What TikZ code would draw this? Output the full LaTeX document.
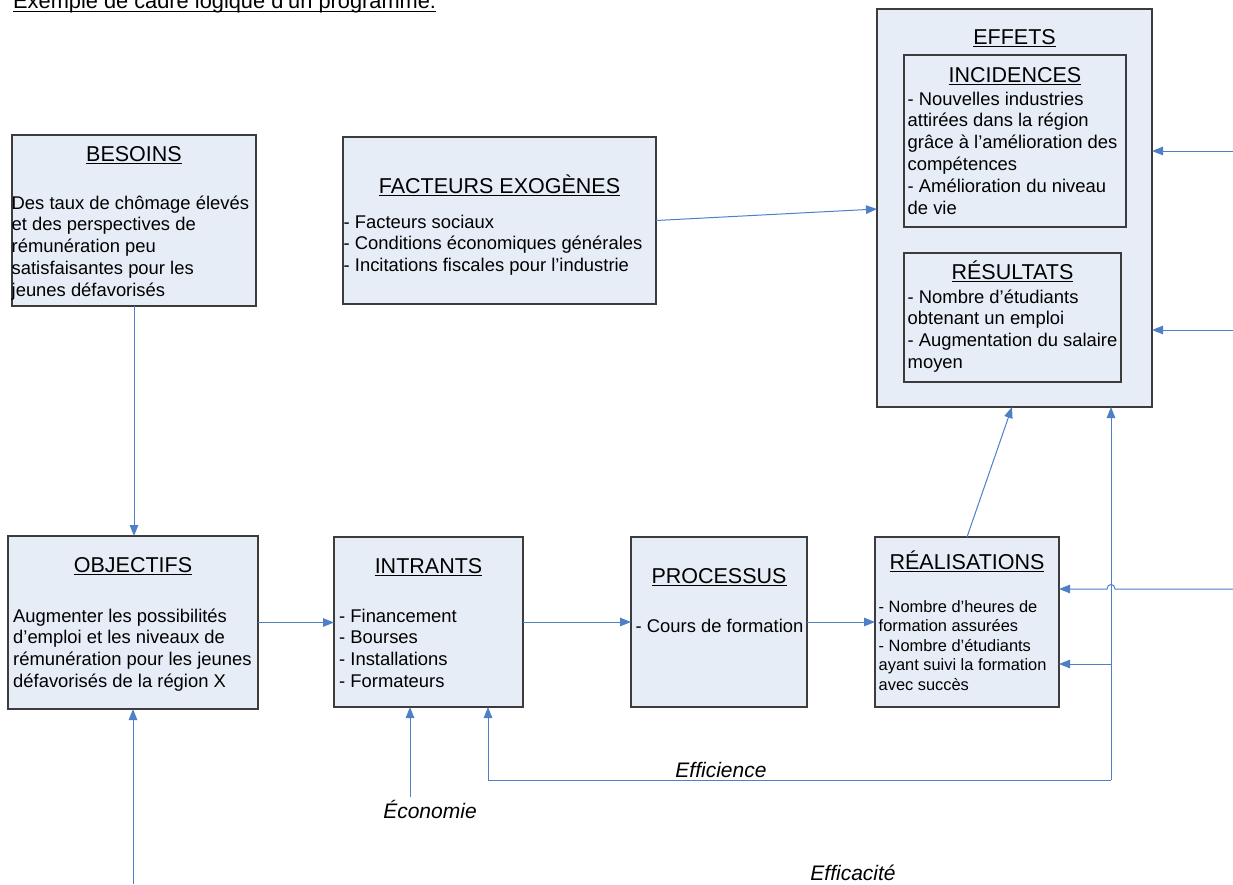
\documentclass[tikz,border=0pt]{standalone}
\usepackage{fontspec}
\setmainfont{Liberation Sans}
\usetikzlibrary{arrows.meta,calc,fit}

\definecolor{boxfill}{RGB}{231,237,247}
\definecolor{boxline}{RGB}{60,60,60}
\definecolor{flow}{RGB}{79,127,198}

% underlined heading with a rule at a fixed depth
\newsavebox\hdrbox
\newcommand\hdr[2][3]{\sbox\hdrbox{#2}\rlap{\rule[-#1pt]{\wd\hdrbox}{1.1pt}}\usebox\hdrbox}
% left-aligned block of lines; the node's base is the first baseline
\newcommand\lineblock[1]{\parbox[t]{330pt}{\raggedright #1}}

\tikzset{
  box/.style={draw=boxline, fill=boxfill, line width=1.2pt, inner sep=0pt, outer sep=0pt},
  heading/.style={anchor=base, inner sep=0pt, font=\fontsize{21.5}{26}\selectfont},
  body/.style={anchor=base west, inner sep=0pt, font=\fontsize{18.4}{21.8}\selectfont},
  smallbody/.style={anchor=base west, inner sep=0pt, font=\fontsize{16.4}{19.6}\selectfont},
  lbl/.style={anchor=base, inner sep=0pt, font=\fontsize{21}{25}\selectfont\itshape},
  flow/.style={draw=flow, line width=1pt, -{Triangle[length=11pt,width=8.5pt]}},
  flowline/.style={draw=flow, line width=1pt},
}

\begin{document}
\begin{tikzpicture}[x=1pt,y=-1pt]
\useasboundingbox (0,0) rectangle (1233,884);
\clip (0,0) rectangle (1233,884);

% page heading (its upper part lies above the frame)
\node[anchor=base west, inner sep=0pt, font=\fontsize{21.8}{26}\selectfont] (pagetitle) at (13,8)
  {\hdr[4.3]{Exemple de cadre logique d’un programme:}};

% boxes
\node[box, fit={(877,9) (1152,407)}] (effets) {};
\node[box, fit={(904,55) (1126,227)}] (incid) {};
\node[box, fit={(904,253) (1121,382)}] (result) {};
\node[box, fit={(12,135) (256,306)}] (besoins) {};
\node[box, fit={(343,137) (656,304)}] (facteurs) {};
\node[box, fit={(8,536) (258,709)}] (objectifs) {};
\node[box, fit={(334,537) (523,707)}] (intrants) {};
\node[box, fit={(631,537) (807,707)}] (processus) {};
\node[box, fit={(875,537) (1059,707)}] (realis) {};

% EFFETS
\node[heading] (effetsT) at (effets.center |- 0,44) {\hdr{EFFETS}};
\node[heading] (incidT) at (incid.center |- 0,82) {\hdr{INCIDENCES}};
\node[body] (incidB) at (907.5,105) {\lineblock{- Nouvelles industries\\attirées dans la région\\grâce à l’amélioration des\\compétences\\- Amélioration du niveau\\de vie}};
\node[heading] (resultT) at (result.center |- 0,279) {\hdr{RÉSULTATS}};
\node[body] (resultB) at (907.5,303) {\lineblock{- Nombre d’étudiants\\obtenant un emploi\\- Augmentation du salaire\\moyen}};

% BESOINS
\node[heading] (besoinsT) at (besoins.center |- 0,161) {\hdr{BESOINS}};
\node[body] (besoinsB) at (11.5,209) {\lineblock{Des taux de chômage élevés\\et des perspectives de\\rémunération peu\\satisfaisantes pour les\\jeunes défavorisés}};

% FACTEURS EXOGÈNES
\node[heading] (facteursT) at (facteurs.center |- 0,193) {\hdr{FACTEURS EXOGÈNES}};
\node[body] (facteursB) at (343.5,228) {\lineblock{- Facteurs sociaux\\- Conditions économiques générales\\- Incitations fiscales pour l’industrie}};

% OBJECTIFS
\node[heading] (objectifsT) at (objectifs.center |- 0,572) {\hdr{OBJECTIFS}};
\node[body] (objectifsB) at (13,622) {\lineblock{Augmenter les possibilités\\d’emploi et les niveaux de\\rémunération pour les jeunes\\défavorisés de la région X}};

% INTRANTS
\node[heading] (intrantsT) at (intrants.center |- 0,573) {\hdr{INTRANTS}};
\node[body] (intrantsB) at (339,622) {\lineblock{- Financement\\- Bourses\\- Installations\\- Formateurs}};

% PROCESSUS
\node[heading] (processusT) at (processus.center |- 0,583) {\hdr{PROCESSUS}};
\node[body] (processusB) at (635.5,632) {\lineblock{- Cours de formation}};

% RÉALISATIONS
\node[heading] (realisT) at (realis.center |- 0,569) {\hdr{RÉALISATIONS}};
\node[smallbody] (realisB) at (878.5,612) {\lineblock{- Nombre d’heures de\\formation assurées\\- Nombre d’étudiants\\ayant suivi la formation\\avec succès}};

% labels
\node[lbl] (economie) at (430,818) {Économie};
\node[lbl] (efficience) at (721,777) {Efficience};
\node[lbl] (efficacite) at (853,880) {Efficacité};

% free ends of connectors
\coordinate (objIn) at (133,884);
\coordinate (ecoIn) at (410,797);
\coordinate (effIn) at (1012,407);
\coordinate (facIn) at (877,209);
\coordinate (rightA) at (1233,151);
\coordinate (rightB) at (1233,330);
\coordinate (rightC) at (1233,589);
\coordinate (fbCorner) at (1111,780);
\coordinate (fbLeft) at (488,780);
\coordinate (fbTap) at (1111,664);
\coordinate (hop) at (fbCorner |- rightC);

% connectors
\draw[flow] (besoins.south) -- (besoins.south |- objectifs.north);
\draw[flow] (objIn) -- (objIn |- objectifs.south);
\draw[flow] (objectifs.east) -- (objectifs.east -| intrants.west);
\draw[flow] (intrants.east) -- (intrants.east -| processus.west);
\draw[flow] (processus.east) -- (processus.east -| realis.west);
\draw[flow] (realis.north) -- (effIn);
\draw[flow] (facteurs.east) -- (facIn);
\draw[flow] (ecoIn) -- (ecoIn |- intrants.south);
\draw[flow] (rightA) -- (rightA -| effets.east);
\draw[flow] (rightB) -- (rightB -| effets.east);
\draw[flow] (fbCorner) -- (fbCorner |- effets.south);
\draw[flow] (fbCorner) -- (fbLeft) -- (fbLeft |- intrants.south);
\draw[flow] (fbTap) -- (fbTap -| realis.east);
\draw[flow] (rightC) -- ($(hop)+(4,0)$)
  .. controls ($(hop)+(4,-6)$) and ($(hop)+(-4,-6)$) .. ($(hop)+(-4,0)$)
  -- (rightC -| realis.east);
\end{tikzpicture}
\end{document}
